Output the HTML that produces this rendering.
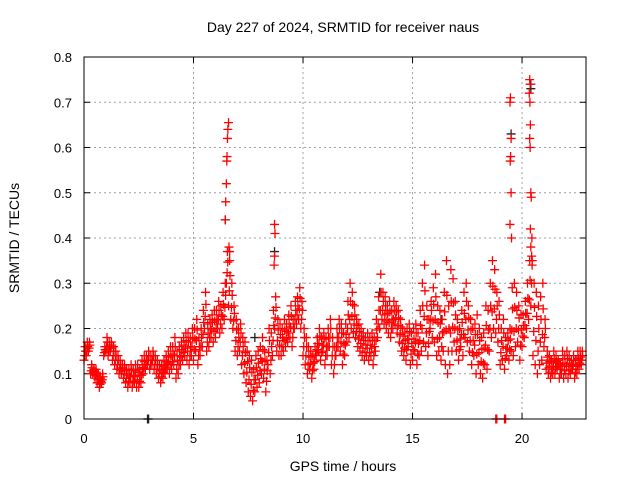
<!DOCTYPE html>
<html><head><meta charset="utf-8"><style>
body{margin:0;background:#fff}
svg{display:block;font-family:"Liberation Sans",sans-serif}
</style></head><body>
<svg id="chart" width="640" height="480" viewBox="0 0 640 480">
<rect width="640" height="480" fill="#fff"/>
<text x="343" y="32" font-size="14" text-anchor="middle">Day 227 of 2024, SRMTID for receiver naus</text>
<text x="343" y="471" font-size="14" text-anchor="middle">GPS time / hours</text>
<text transform="translate(19,238) rotate(-90)" font-size="14" text-anchor="middle">SRMTID / TECUs</text>
<g id="grid"></g>
<g id="ticks"></g>
<g id="black"></g>
<g id="red"></g>
<rect x="84" y="57" width="502" height="362" fill="none" stroke="#000" stroke-width="1"/>
</svg>
<script>
const xTicks=[0,5,10,15,20];
const yTicks=[0,0.1,0.2,0.3,0.4,0.5,0.6,0.7,0.8];
const yTickLabels=["0","0.1","0.2","0.3","0.4","0.5","0.6","0.7","0.8"];
const tStep=0.1;
const redLo=[.13,.14,.15,.10,.10,.09,.08,.07,.08,.14,
.15,.14,.15,.13,.12,.11,.10,.10,.09,.08,
.07,.08,.07,.08,.07,.07,.08,.10,.11,.12,
.11,.12,.11,.10,.09,.08,.09,.10,.11,.10,
.11,.12,.09,.10,.12,.13,.14,.13,.12,.14,
.13,.15,.12,.14,.16,.20,.15,.16,.18,.17,
.18,.20,.19,.20,.22,.30,.25,.22,.20,.15,
.14,.15,.12,.10,.08,.06,.05,.04,.06,.07,
.08,.10,.09,.06,.12,.10,.14,.20,.15,.14,
.14,.15,.16,.17,.18,.16,.20,.21,.22,.20,
.14,.12,.10,.11,.09,.11,.14,.15,.13,.15,
.12,.14,.16,.12,.10,.14,.16,.15,.12,.14,
.17,.18,.20,.19,.18,.16,.15,.14,.13,.14,
.13,.14,.12,.15,.18,.20,.22,.21,.20,.19,
.18,.20,.21,.19,.17,.15,.14,.13,.16,.12,
.13,.15,.12,.14,.15,.17,.16,.14,.20,.18,
.17,.14,.15,.13,.15,.12,.10,.12,.15,.17,
.15,.13,.16,.14,.18,.17,.15,.12,.14,.10,
.12,.10,.09,.12,.11,.15,.18,.20,.19,.17,
.12,.13,.11,.14,.13,.15,.14,.16,.17,.13,
.16,.18,.20,.22,.25,.14,.12,.10,.12,.13,
.16,.11,.10,.09,.10,.10,.11,.09,.10,.09,
.10,.09,.10,.11,.09,.10,.11,.12];
const redHi=[.16,.17,.17,.12,.11,.11,.10,.09,.10,.16,
.18,.17,.17,.16,.15,.14,.13,.12,.12,.11,
.11,.12,.11,.12,.12,.11,.13,.14,.14,.15,
.14,.15,.14,.13,.12,.12,.13,.14,.15,.16,
.16,.18,.15,.16,.17,.18,.19,.19,.18,.20,
.20,.22,.18,.20,.24,.28,.21,.22,.23,.24,
.24,.26,.25,.28,.30,.37,.35,.30,.25,.22,
.20,.21,.18,.17,.15,.14,.13,.11,.14,.15,
.16,.18,.15,.13,.20,.19,.24,.27,.22,.21,
.20,.22,.21,.23,.25,.22,.26,.27,.29,.26,
.20,.18,.16,.15,.14,.16,.18,.20,.18,.19,
.18,.20,.22,.18,.16,.20,.22,.21,.19,.21,
.26,.30,.28,.25,.22,.21,.20,.19,.18,.19,
.18,.19,.18,.22,.27,.32,.28,.27,.25,.26,
.24,.26,.25,.24,.22,.20,.19,.20,.21,.19,
.20,.21,.19,.24,.30,.34,.25,.22,.26,.29,
.32,.25,.24,.22,.28,.35,.25,.33,.31,.26,
.22,.20,.24,.28,.30,.25,.22,.20,.21,.23,
.20,.18,.19,.25,.24,.30,.35,.33,.28,.26,
.20,.22,.18,.19,.20,.29,.30,.28,.25,.23,
.23,.26,.30,.35,.40,.30,.28,.25,.27,.30,
.22,.15,.14,.13,.15,.14,.13,.12,.15,.14,
.15,.14,.13,.14,.13,.15,.15,.15];
const spikeT=[6.45,6.47,6.5,6.52,6.53,6.55,6.57,6.6,6.62,6.65,8.7,8.72,8.7,8.68,19.45,19.47,19.5,19.48,19.46,19.5,19.45,19.52,20.35,20.37,20.33,20.36,20.38,20.35,20.37,20.4,20.42,20.38,20.4,20.44,20.46,18.8,18.85,19.2,19.25];
const spikeV=[.44,.48,.52,.57,.58,.62,.64,.655,.38,.37,.43,.41,.36,.34,.70,.71,.62,.58,.57,.50,.43,.40,.75,.74,.72,.70,.65,.62,.60,.50,.49,.42,.38,.36,.34,0,0,0,0];
const blackT=[2.9,2.95,6.45,8.7,19.5,20.4,20.4,7.8,13.5,16.3];
const blackV=[0,0,.44,.37,.63,.73,.74,.18,.28,.22];

const X0=84,X1=586,Y0=419,Y1=57,XMAX=22.92,YMAX=0.8;
const xs=t=>X0+(X1-X0)*t/XMAX;
const ys=v=>Y0-(Y0-Y1)*v/YMAX;
const NS="http://www.w3.org/2000/svg";
function mk(tag,attrs,parent){const e=document.createElementNS(NS,tag);for(const k in attrs)e.setAttribute(k,attrs[k]);parent.appendChild(e);return e;}
const grid=document.getElementById('grid'),ticks=document.getElementById('ticks');
xTicks.forEach(t=>{
  const x=xs(t);
  if(t>0){const g=mk('line',{x1:x,x2:x,y1:Y1,y2:Y0,stroke:'#a0a0a0','stroke-dasharray':'2,3'},grid);
  
  }
  mk('line',{x1:x,x2:x,y1:Y0,y2:Y0-6,stroke:'#000'},ticks);
  mk('line',{x1:x,x2:x,y1:Y1,y2:Y1+6,stroke:'#000'},ticks);
  const l=mk('text',{x:x,y:443,'font-size':13,'text-anchor':'middle'},ticks);l.textContent=t;
  
  
});
yTicks.forEach((v,i)=>{
  const y=ys(v);
  if(v>0&&v<YMAX){const g=mk('line',{x1:X0,x2:X1,y1:y,y2:y,stroke:'#a0a0a0','stroke-dasharray':'2,3'},grid);
  
  }
  mk('line',{x1:X0,x2:X0+6,y1:y,y2:y,stroke:'#000'},ticks);
  mk('line',{x1:X1,x2:X1-6,y1:y,y2:y,stroke:'#000'},ticks);
  const l=mk('text',{x:72,y:y+5,'font-size':13,'text-anchor':'end'},ticks);l.textContent=yTickLabels[i];
  
  
});
function plus(g,t,v,col){
  const x=xs(t),y=ys(v);
  const p=mk('path',{d:`M${x-4.5},${y}h9M${x},${y-4.5}v9`,stroke:col,'stroke-width':1.3,fill:'none'},g);
  
  
}
const black=document.getElementById('black'),red=document.getElementById('red');
blackT.forEach((t,i)=>plus(black,t,blackV[i],'#222'));
redLo.forEach((lo,i)=>{
  const t=i*tStep,hi=redHi[i];
  plus(red,t,lo,'#f00');
  plus(red,t+0.033,(lo*2+hi)/3,'#f00');
  plus(red,t+0.066,(lo+hi*2)/3,'#f00');
  plus(red,t+0.05,hi,'#f00');
});
spikeT.forEach((t,i)=>plus(red,t,spikeV[i],'#f00'));
</script>
</body></html>
